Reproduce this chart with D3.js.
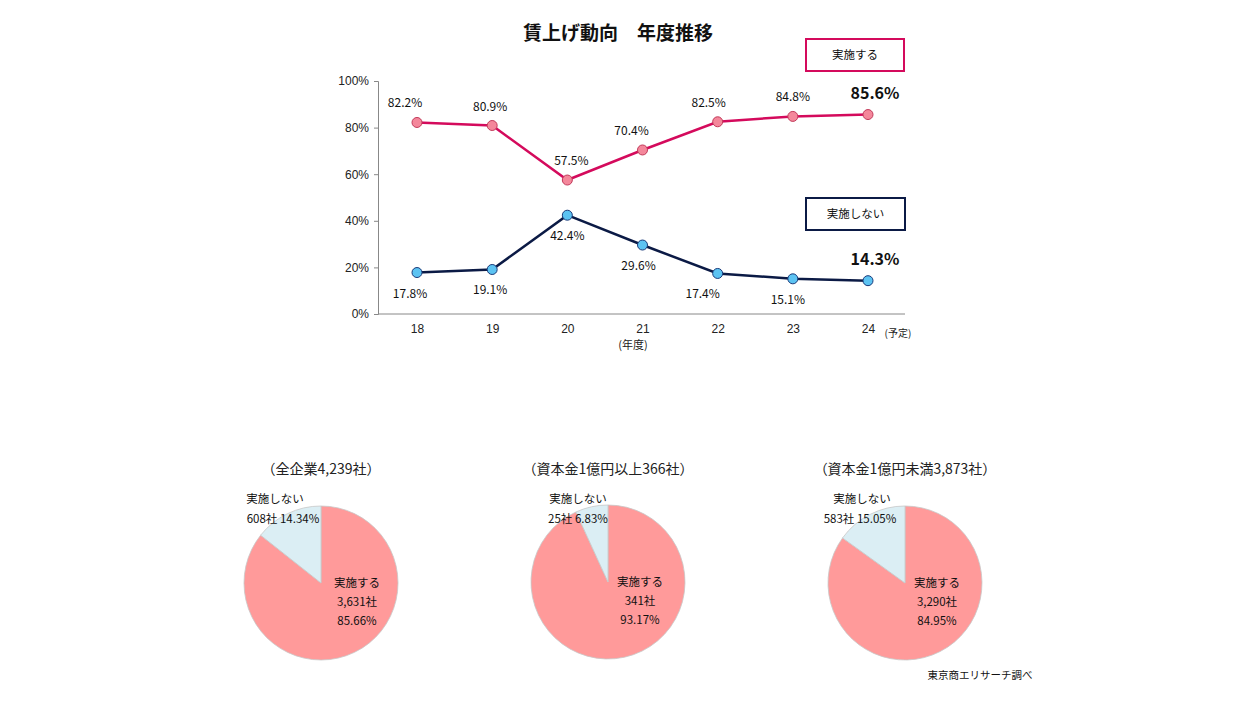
<!DOCTYPE html>
<html><head><meta charset="utf-8">
<script src="https://cdn.jsdelivr.net/npm/d3@7"></script>
<style>
body{margin:0;background:#fff;}
svg{display:block;font-family:"Noto Sans CJK JP","Noto Sans",sans-serif;}
</style></head>
<body>
<svg id="c" width="1248" height="702"></svg>
<script>
const years = ["18","19","20","21","22","23","24"];
const implemented = [82.2, 80.9, 57.5, 70.4, 82.5, 84.8, 85.6];
const notImplemented = [17.8, 19.1, 42.4, 29.6, 17.4, 15.1, 14.3];
const yTicks = [0, 20, 40, 60, 80, 100];

const pieTitles = ["（全企業4,239社）", "（資本金1億円以上366社）", "（資本金1億円未満3,873社）"];
const pieYesCounts = ["3,631社", "341社", "3,290社"];
const pieNoCounts = ["608社", "25社", "583社"];
const pieYesPct = [85.66, 93.17, 84.95];
const pieNoPct = [14.34, 6.83, 15.05];

const svg = d3.select("#c");
const pink = "#d40a5c", navy = "#0b1a45";

svg.append("text").attr("x", 618).attr("y", 40).attr("text-anchor", "middle")
  .attr("font-size", 19).attr("font-weight", "bold").attr("fill", "#111").text("賃上げ動向　年度推移");

const x = d3.scalePoint().domain(years).range([417, 868]);
const y = d3.scaleLinear().domain([0, 100]).range([314, 81]);

const yAxis = svg.append("g").attr("transform", "translate(378,0)")
  .call(d3.axisLeft(y).tickValues(yTicks).tickSize(4).tickFormat(d => d + "%"));
yAxis.select(".domain").attr("stroke", "#888");
yAxis.selectAll(".tick line").attr("stroke", "#888");
yAxis.selectAll("text").attr("font-size", 12).attr("fill", "#222").attr("dx", -2);

svg.append("line").attr("x1", 378).attr("x2", 905).attr("y1", y(0)).attr("y2", y(0)).attr("stroke", "#888");
const xAxis = svg.append("g").attr("transform", `translate(0,${y(0)})`)
  .call(d3.axisBottom(x).tickSize(0).tickPadding(10));
xAxis.select(".domain").remove();
xAxis.selectAll("text").attr("font-size", 12).attr("fill", "#222");
svg.append("text").attr("x", 633).attr("y", 349).attr("text-anchor", "middle").attr("font-size", 11).attr("fill", "#222").text("(年度)");
svg.append("text").attr("x", 898).attr("y", 337).attr("text-anchor", "middle").attr("font-size", 10).attr("fill", "#222").text("(予定)");

const line = d3.line().x((d, i) => x(years[i])).y(d => y(d));
svg.append("path").datum(implemented).attr("d", line).attr("fill", "none").attr("stroke", pink).attr("stroke-width", 2.5);
svg.append("path").datum(notImplemented).attr("d", line).attr("fill", "none").attr("stroke", navy).attr("stroke-width", 2.5);

svg.selectAll(".pp").data(implemented).join("circle").attr("cx", (d, i) => x(years[i])).attr("cy", d => y(d))
  .attr("r", 5).attr("fill", "#f4879b").attr("stroke", "#c23a5a").attr("stroke-width", 1);
svg.selectAll(".bp").data(notImplemented).join("circle").attr("cx", (d, i) => x(years[i])).attr("cy", d => y(d))
  .attr("r", 5).attr("fill", "#5cc3f2").attr("stroke", "#1a3a7a").attr("stroke-width", 1);

// label horizontal nudges (layout)
const pinkDx = [-12, -2, 4, -11, -9, 0, 7];
const blueDx = [-7, -2, 0, -4, -15, -5, 7];

implemented.forEach((v, i) => {
  const last = i === implemented.length - 1;
  svg.append("text").attr("x", x(years[i]) + pinkDx[i]).attr("y", y(v) - (last ? 16 : 15))
    .attr("text-anchor", "middle").attr("font-size", last ? 16 : 12).attr("font-weight", last ? "bold" : "normal")
    .attr("fill", "#111").text(v.toFixed(1) + "%");
});
notImplemented.forEach((v, i) => {
  const last = i === notImplemented.length - 1;
  svg.append("text").attr("x", x(years[i]) + blueDx[i]).attr("y", last ? y(v) - 16 : y(v) + 25)
    .attr("text-anchor", "middle").attr("font-size", last ? 16 : 12).attr("font-weight", last ? "bold" : "normal")
    .attr("fill", "#111").text(v.toFixed(1) + "%");
});

function legendBox(x0, y0, w, h, col, label) {
  svg.append("rect").attr("x", x0).attr("y", y0).attr("width", w).attr("height", h)
    .attr("fill", "#fff").attr("stroke", col).attr("stroke-width", 2);
  svg.append("text").attr("x", x0 + w / 2).attr("y", y0 + h / 2 + 4).attr("text-anchor", "middle")
    .attr("font-size", 11.5).attr("fill", "#111").text(label);
}
legendBox(806, 39, 98, 32, pink, "実施する");
legendBox(806, 198, 99, 32, navy, "実施しない");

// Pies
const pieCenters = [[321, 583], [608, 582], [905, 583]];
const noLabelPos = [[275, 283], [578, 578], [862, 860]];
const yesLabelX = [357, 640, 937];
const pie = d3.pie().sort(null).value(d => d.v);
const arc = d3.arc().innerRadius(0).outerRadius(77);

pieTitles.forEach((t, k) => {
  const [cx, cy] = pieCenters[k];
  svg.append("text").attr("x", cx).attr("y", 474).attr("text-anchor", "middle").attr("font-size", 14).attr("fill", "#222").text(t);
  const g = svg.append("g").attr("transform", `translate(${cx},${cy})`);
  const data = [{v: pieYesPct[k], c: "#ff9a9a"}, {v: pieNoPct[k], c: "#dbeef4"}];
  g.selectAll("path").data(pie(data)).join("path").attr("d", arc)
    .attr("fill", d => d.data.c).attr("stroke", "#c8c8c8").attr("stroke-width", 0.8);
  const tx = svg.append("g").attr("font-size", 11.5).attr("fill", "#111").attr("text-anchor", "middle");
  tx.append("text").attr("x", noLabelPos[k][0]).attr("y", 503).text("実施しない");
  tx.append("text").attr("x", noLabelPos[k][1]).attr("y", 523).text(pieNoCounts[k] + " " + pieNoPct[k].toFixed(2) + "%");
  tx.append("text").attr("x", yesLabelX[k]).attr("y", cy + 4).text("実施する");
  tx.append("text").attr("x", yesLabelX[k]).attr("y", cy + 23).text(pieYesCounts[k]);
  tx.append("text").attr("x", yesLabelX[k]).attr("y", cy + 42).text(pieYesPct[k].toFixed(2) + "%");
});

svg.append("text").attr("x", 980).attr("y", 679).attr("text-anchor", "middle").attr("font-size", 10.5).attr("fill", "#111").text("東京商エリサーチ調べ");
</script>
</body></html>
